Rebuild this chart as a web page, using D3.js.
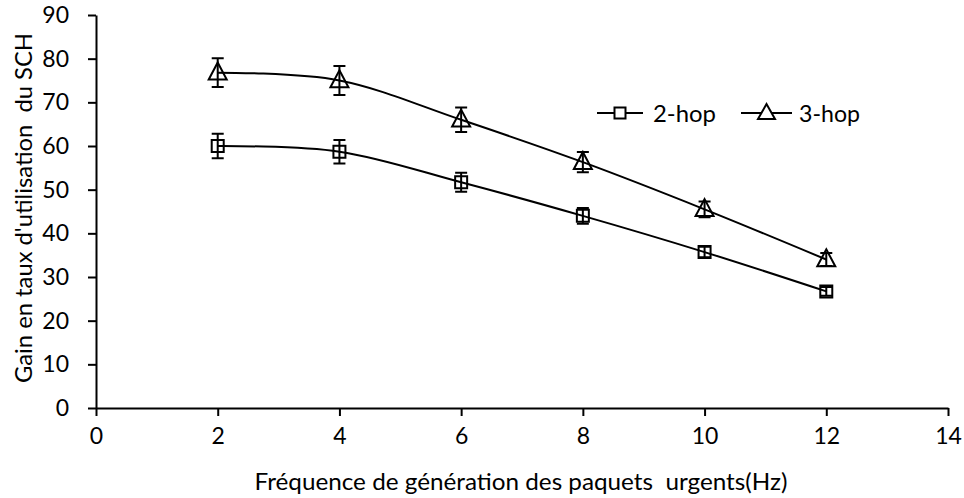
<!DOCTYPE html>
<html><head><meta charset="utf-8">
<script src="https://cdn.jsdelivr.net/npm/d3@7"></script>
<style>body{margin:0;background:#fff}svg{display:block}text{font-family:Lato,"Open Sans",sans-serif;fill:#000;white-space:pre}</style>
</head><body><svg id="c" width="964" height="498"></svg>
<script>
const freq = [2, 4, 6, 8, 10, 12];
const hop2 = [60, 58.7, 51.7, 44, 35.7, 26.7];
const hop2Err = [2.8, 2.7, 2.2, 1.8, 1.2, 1.0];
const hop3 = [76.8, 75, 66, 56.3, 45.5, 34];
const hop3Err = [3.3, 3.3, 2.8, 2.3, 1.8, 1.5];
const xTicks = [0, 2, 4, 6, 8, 10, 12, 14];
const yTicks = [0, 10, 20, 30, 40, 50, 60, 70, 80, 90];
const seriesNames = ["2-hop", "3-hop"];

const svg = d3.select("#c");
const x = d3.scaleLinear().domain([0, 14]).range([96, 948]);
const y = d3.scaleLinear().domain([0, 90]).range([408, 15]);

const xAxis = d3.axisBottom(x).tickValues(xTicks).tickSize(8).tickSizeOuter(0).tickPadding(12);
const yAxis = d3.axisLeft(y).tickValues(yTicks).tickSize(8).tickSizeOuter(0).tickPadding(19);

const gx = svg.append("g").attr("transform", "translate(0,408)").call(xAxis);
const gy = svg.append("g").attr("transform", "translate(96,0)").call(yAxis);
[gx, gy].forEach(g => {
  g.selectAll("path,line").attr("stroke", "#000").attr("stroke-width", 2);
  g.selectAll("text").style("font-size", "23px").style("font-family", "Lato,'Open Sans',sans-serif");
});

svg.append("text").attr("x", 521).attr("y", 490).attr("text-anchor", "middle")
  .attr("textLength", 533).attr("lengthAdjust", "spacingAndGlyphs")
  .style("font-size", "24px").text("Fréquence de génération des paquets  urgents(Hz)");
svg.append("text").attr("transform", "translate(32,208) rotate(-90)").attr("text-anchor", "middle")
  .attr("textLength", 350).attr("lengthAdjust", "spacingAndGlyphs")
  .style("font-size", "24px").text("Gain en taux d'utilisation  du SCH");

const line = d3.line().x(d => x(d[0])).y(d => y(d[1])).curve(d3.curveCatmullRom.alpha(0));

function squarePath(cx, cy, s) { return `M${cx - s/2},${cy - s/2}h${s}v${s}h${-s}Z`; }
function triPath(cx, cy, w, h) { return `M${cx},${cy - h*0.6}L${cx + w/2},${cy + h*0.4}L${cx - w/2},${cy + h*0.4}Z`; }

const series = [
  {name: seriesNames[0], vals: hop2, err: hop2Err, shape: "sq"},
  {name: seriesNames[1], vals: hop3, err: hop3Err, shape: "tri"}
];

series.forEach(s => {
  const pts = freq.map((f, i) => [f, s.vals[i], s.err[i]]);
  svg.append("path").attr("d", line(pts)).attr("fill", "none").attr("stroke", "#000").attr("stroke-width", 2);
  const g = svg.append("g");
  pts.forEach(p => {
    const cx = x(p[0]), cy = y(p[1]), t = y(p[1] + p[2]), b = y(p[1] - p[2]);
    g.append("path").attr("d", `M${cx},${t}V${b}M${cx-6},${t}H${cx+6}M${cx-6},${b}H${cx+6}`)
      .attr("stroke", "#000").attr("stroke-width", 2).attr("fill", "none");
    g.append("path").attr("d", s.shape === "sq" ? squarePath(cx, cy, 12) : triPath(cx, cy, 18, 17))
      .attr("stroke", "#000").attr("stroke-width", 2).attr("fill", "none");
  });
});

// legend
const leg = [{x0: 597, x1: 643, tx: 653, tw: 63, shape: "sq", name: seriesNames[0]},
             {x0: 741, x1: 792, tx: 799, tw: 61, shape: "tri", name: seriesNames[1]}];
leg.forEach(l => {
  const ly = 113, cx = (l.x0 + l.x1) / 2;
  svg.append("line").attr("x1", l.x0).attr("x2", l.x1).attr("y1", ly).attr("y2", ly).attr("stroke", "#000").attr("stroke-width", 2);
  svg.append("path").attr("d", l.shape === "sq" ? squarePath(cx, ly, 11) : triPath(cx, ly, 17, 15))
    .attr("stroke", "#000").attr("stroke-width", 2).attr("fill", "#fff");
  svg.append("text").attr("x", l.tx).attr("y", ly + 9).attr("textLength", l.tw).attr("lengthAdjust", "spacingAndGlyphs")
    .style("font-size", "24px").text(l.name);
});
</script></body></html>
